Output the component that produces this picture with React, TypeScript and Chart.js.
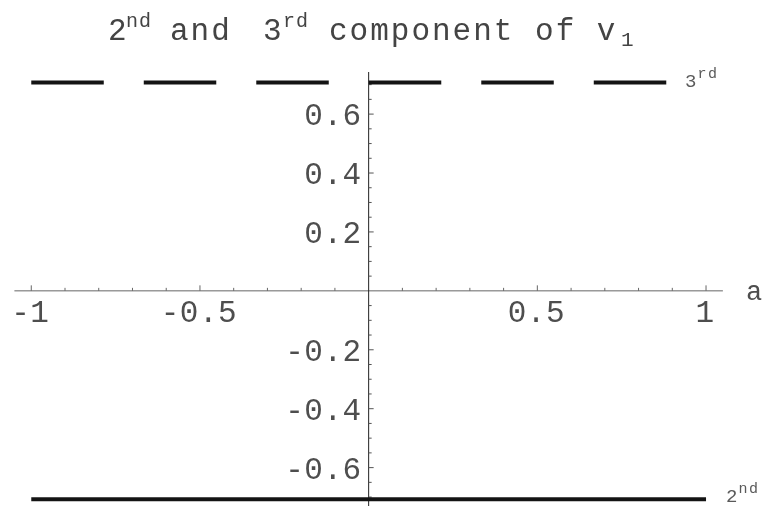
import { useEffect, useRef } from "react";
import { Chart, registerables } from "chart.js";

Chart.register(...registerables);

// ---- data ----
const aValues = [-1, 1];
const thirdComponent = [0.7071, 0.7071];
const secondComponent = [-0.7071, -0.7071];

const xMajorTicks = [-1, -0.5, 0.5, 1];
const xTickLabels = ["-1", "-0.5", "0.5", "1"];
const xMinorTicks = [-0.9, -0.8, -0.7, -0.6, -0.4, -0.3, -0.2, -0.1, 0.1, 0.2, 0.3, 0.4, 0.6, 0.7, 0.8, 0.9];

const yMajorTicks = [-0.6, -0.4, -0.2, 0.2, 0.4, 0.6];
const yTickLabels = ["-0.6", "-0.4", "-0.2", "0.2", "0.4", "0.6"];
const yMinorTicks = [
  -0.7, -0.65, -0.55, -0.5, -0.45, -0.35, -0.3, -0.25, -0.15, -0.1, -0.05,
  0.05, 0.1, 0.15, 0.25, 0.3, 0.35, 0.45, 0.5, 0.55, 0.65, 0.7,
];

const xAxisLabel = "a";
const seriesNames = ["2", "3"];
const seriesSuffixes = ["nd", "rd"];

const MONO = '"Liberation Mono", "DejaVu Sans Mono", monospace';

function drawAxesPlugin() {
  return {
    id: "mmaAxes",
    beforeDatasetsDraw(chart: any) {
      const { ctx, chartArea, scales } = chart;
      const xs = scales.x;
      const ys = scales.y;
      const x0 = xs.getPixelForValue(0);
      const y0 = ys.getPixelForValue(0);
      ctx.save();
      ctx.lineWidth = 1;
      ctx.strokeStyle = "#666";
      ctx.beginPath();
      ctx.moveTo(chartArea.left, y0);
      ctx.lineTo(chartArea.right, y0);
      ctx.stroke();
      ctx.strokeStyle = "#222";
      ctx.beginPath();
      ctx.moveTo(x0, chartArea.top);
      ctx.lineTo(x0, chartArea.bottom);
      ctx.stroke();
      ctx.strokeStyle = "#666";
      ctx.beginPath();
      xMajorTicks.forEach((v) => {
        const px = xs.getPixelForValue(v);
        ctx.moveTo(px, y0);
        ctx.lineTo(px, y0 - 5.5);
      });
      xMinorTicks.forEach((v) => {
        const px = xs.getPixelForValue(v);
        ctx.moveTo(px, y0);
        ctx.lineTo(px, y0 - 3);
      });
      ctx.stroke();
      ctx.strokeStyle = "#555";
      ctx.beginPath();
      yMajorTicks.forEach((v) => {
        const py = ys.getPixelForValue(v);
        ctx.moveTo(x0, py);
        ctx.lineTo(x0 + 5, py);
      });
      yMinorTicks.forEach((v) => {
        const py = ys.getPixelForValue(v);
        ctx.moveTo(x0, py);
        ctx.lineTo(x0 + 3, py);
      });
      ctx.stroke();
      ctx.restore();
    },
    afterDatasetsDraw(chart: any) {
      const { ctx, scales } = chart;
      const xs = scales.x;
      const ys = scales.y;
      const x0 = xs.getPixelForValue(0);
      const y0 = ys.getPixelForValue(0);
      ctx.save();
      ctx.fillStyle = "#4e4e4e";
      ctx.font = `31px ${MONO}`;
      (ctx as any).letterSpacing = "0.5px";
      ctx.textAlign = "center";
      ctx.textBaseline = "alphabetic";
      xMajorTicks.forEach((v, i) => {
        ctx.fillText(xTickLabels[i], xs.getPixelForValue(v) - 1, y0 + 31);
      });
      ctx.textAlign = "right";
      yMajorTicks.forEach((v, i) => {
        ctx.fillText(yTickLabels[i], x0 - 7, ys.getPixelForValue(v) + 11);
      });
      ctx.textAlign = "left";
      ctx.font = `27px ${MONO}`;
      ctx.fillText(xAxisLabel, xs.getPixelForValue(1) + 40, y0 + 9);

      const px1 = xs.getPixelForValue(aValues[1]);
      const labelPos = [
        { x: px1 + 20, y: ys.getPixelForValue(secondComponent[1]) + 2.5 },
        { x: px1 - 21, y: ys.getPixelForValue(thirdComponent[1]) + 4.5 },
      ];
      ctx.fillStyle = "#5a5a5a";
      labelPos.forEach((p, i) => {
        (ctx as any).letterSpacing = "0px";
        ctx.font = `19px ${MONO}`;
        ctx.fillText(seriesNames[i], p.x, p.y);
        const w = ctx.measureText(seriesNames[i]).width;
        (ctx as any).letterSpacing = "1.5px";
        ctx.font = `15px ${MONO}`;
        ctx.fillText(seriesSuffixes[i], p.x + w + 1, p.y - 9);
      });

      ctx.fillStyle = "#444";
      const base = 40;
      const pieces: { t: string; x: number; kind: "main" | "sup" | "sub" }[] = [
        { t: "2", x: 108, kind: "main" },
        { t: "nd", x: 126, kind: "sup" },
        { t: "and", x: 170, kind: "main" },
        { t: "3", x: 263, kind: "main" },
        { t: "rd", x: 283, kind: "sup" },
        { t: "component of v", x: 329, kind: "main" },
        { t: "1", x: 621, kind: "sub" },
      ];
      pieces.forEach((pc) => {
        if (pc.kind === "main") {
          ctx.font = `31px ${MONO}`;
          (ctx as any).letterSpacing = "2px";
          ctx.fillText(pc.t, pc.x, base);
        } else if (pc.kind === "sup") {
          ctx.font = `20px ${MONO}`;
          (ctx as any).letterSpacing = "1px";
          ctx.fillText(pc.t, pc.x, base - 13);
        } else {
          ctx.font = `21px ${MONO}`;
          (ctx as any).letterSpacing = "0px";
          ctx.fillText(pc.t, pc.x, base + 6);
        }
      });
      ctx.restore();
    },
  };
}

export default function App() {
  const canvasRef = useRef<HTMLCanvasElement | null>(null);

  useEffect(() => {
    document.body.style.margin = "0";
    const canvas = canvasRef.current;
    if (!canvas) return;
    const chart = new Chart(canvas, {
      type: "line",
      data: {
        datasets: [
          {
            label: "2nd",
            data: aValues.map((a, i) => ({ x: a, y: secondComponent[i] })),
            borderColor: "#141414",
            borderWidth: 4,
            pointRadius: 0,
            fill: false,
            tension: 0,
          },
          {
            label: "3rd",
            data: aValues.map((a, i) => ({ x: a, y: thirdComponent[i] })),
            borderColor: "#141414",
            borderWidth: 4,
            borderDash: [72.5, 40],
            borderCapStyle: "butt",
            pointRadius: 0,
            fill: false,
            tension: 0,
          },
        ],
      },
      options: {
        animation: false,
        responsive: false,
        maintainAspectRatio: false,
        layout: { padding: { left: 14.4, right: 46.1, top: 72, bottom: 0 } },
        plugins: {
          legend: { display: false },
          title: { display: false },
          tooltip: { enabled: false },
        },
        scales: {
          x: { type: "linear", min: -1.05, max: 1.05, display: false },
          y: { type: "linear", min: -0.7303, max: 0.7429, display: false },
        },
      },
      plugins: [drawAxesPlugin()],
    });
    return () => chart.destroy();
  }, []);

  return (
    <div style={{ width: 769, height: 506, background: "#fff" }}>
      <canvas ref={canvasRef} width={769} height={506} style={{ display: "block" }} />
    </div>
  );
}
